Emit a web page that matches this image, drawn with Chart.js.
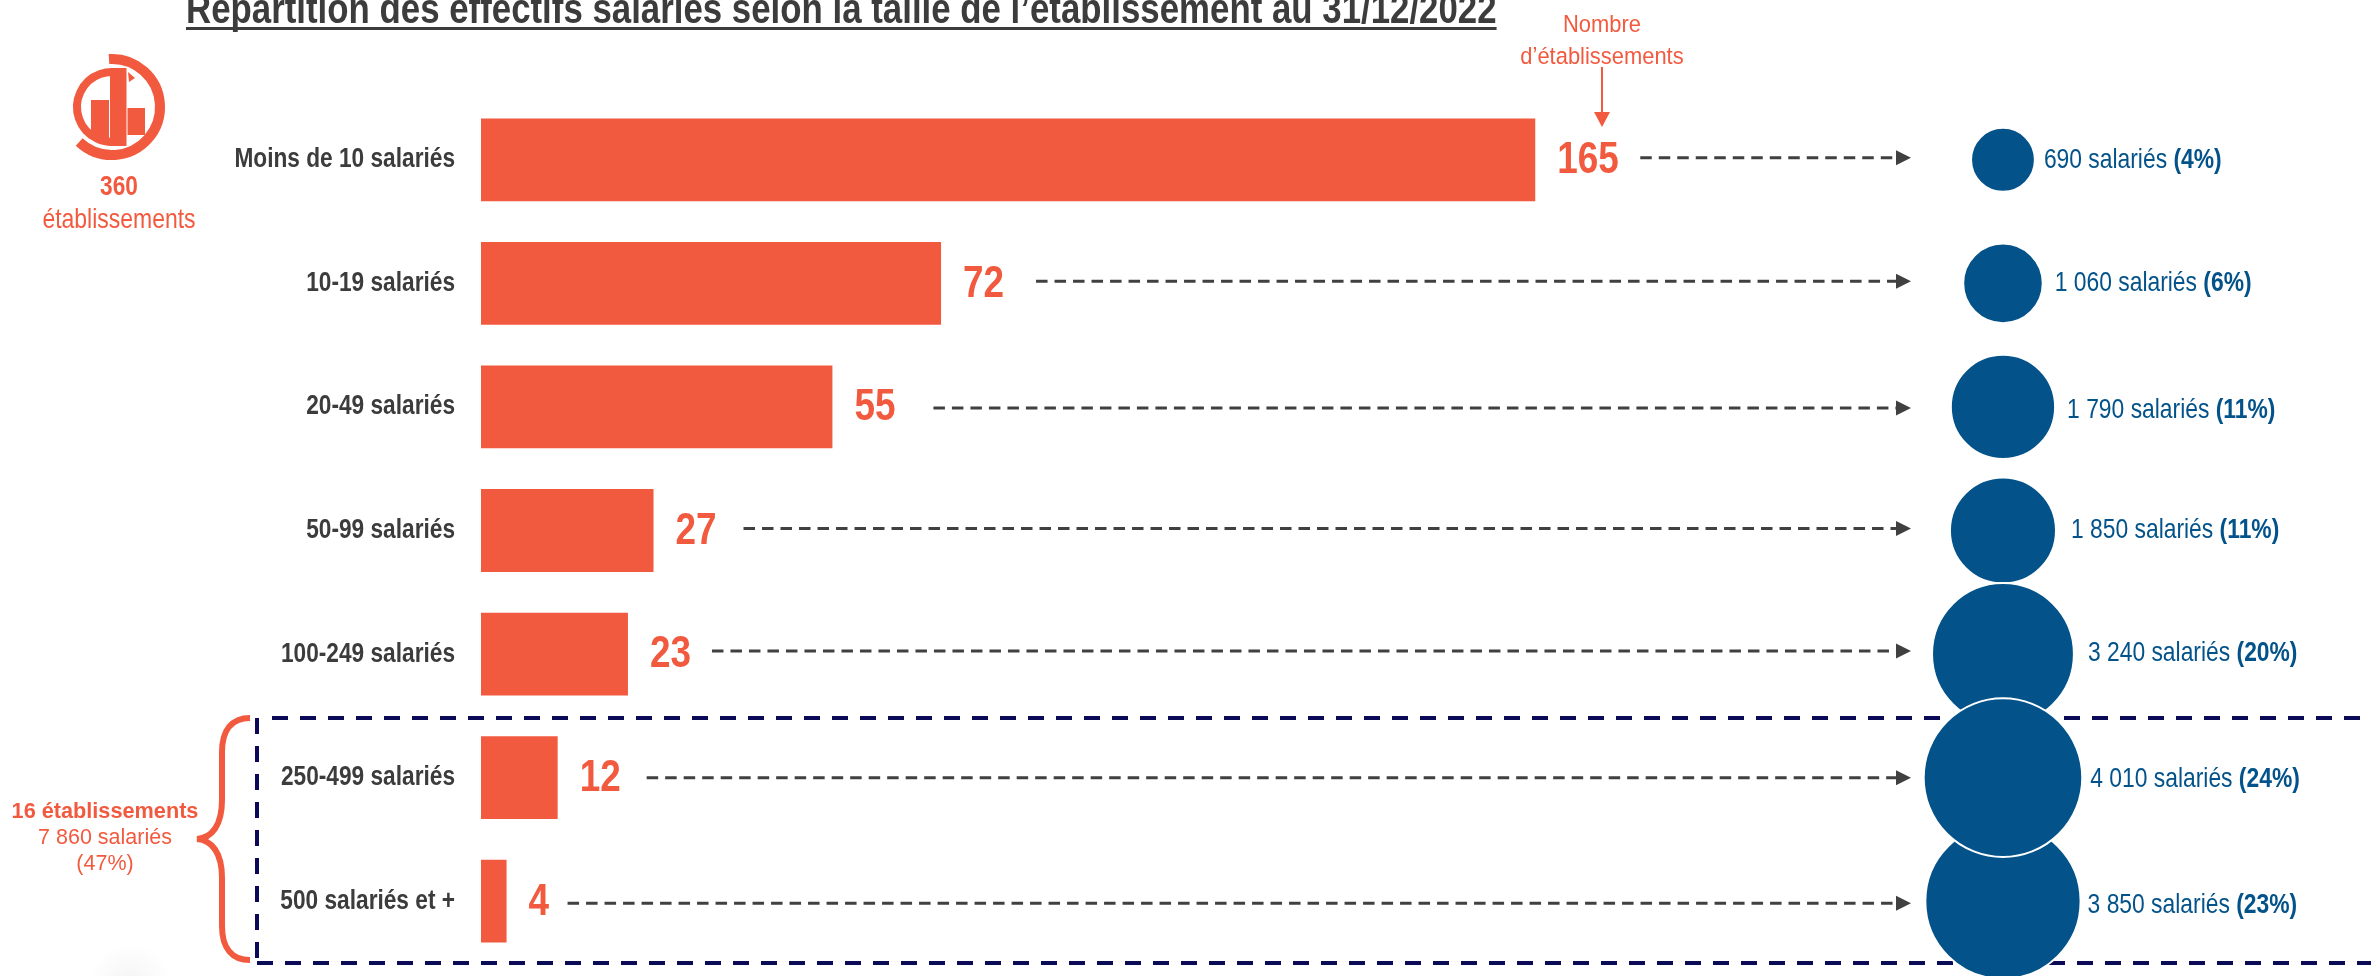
<!DOCTYPE html>
<html lang="fr">
<head>
<meta charset="utf-8">
<title>Répartition des effectifs salariés</title>
<style>html,body{margin:0;padding:0;background:#fff;overflow:hidden}canvas{display:block}</style>
<script src="https://cdn.jsdelivr.net/npm/chart.js@4"></script>
</head>
<body>
<canvas id="c" width="2371" height="976"></canvas>
<script>
// ---- data ----
const categories = ['Moins de 10 salariés','10-19 salariés','20-49 salariés','50-99 salariés','100-249 salariés','250-499 salariés','500 salariés et +'];
const establishments = [165,72,55,27,23,12,4];
const employees = [690,1060,1790,1850,3240,4010,3850];
const employeeText = ['690 salariés','1 060 salariés','1 790 salariés','1 850 salariés','3 240 salariés','4 010 salariés','3 850 salariés'];
const employeeShare = ['(4%)','(6%)','(11%)','(11%)','(20%)','(24%)','(23%)'];
const titleText = "Répartition des effectifs salariés selon la taille de l’établissement au 31/12/2022";

// ---- layout & style ----
const ORANGE='#F25A3F', BLUE='#03538A', NAVY='#0A0A56', DARK='#404040';
const SANS='"Liberation Sans",Arial,sans-serif';
const bubbleColumn = 238.2;      // horizontal position of the bubble column on the x scale
const plotBottom = 963;
const dashStartGap = [105,95,101,90,84,89,61];
const rowNudge     = [-2,-2,1,-2,-3,0,2];
const textGap      = [10,13,13,16,15,9,8];
const radiusOf = v => 0.98*Math.pow(v,0.528)+1;

const bubbles = categories.map((c,i)=>({x:bubbleColumn,y:c,r:radiusOf(employees[i])}))
  .map((b,i)=>({b,v:employees[i]})).sort((p,q)=>p.v-q.v).map(p=>p.b);

// draw text horizontally condensed by factor k
function txt(ctx,s,x,y,font,color,align,k){
  ctx.save();
  ctx.translate(x,y); ctx.scale(k||1,1);
  ctx.font=font; ctx.fillStyle=color; ctx.textAlign=align||'left'; ctx.textBaseline='middle';
  ctx.fillText(s,0,0);
  ctx.restore();
}

const decor = {
  id:'decor',
  afterLayout(chart){
    const y=chart.scales.y, a=chart.chartArea;
    a.bottom=plotBottom; a.height=a.bottom-a.top;
    y.bottom=plotBottom; y.height=y.bottom-y.top; y.configure();
    if(y.__condensed) return;
    y.__condensed=true;
    const orig=y.drawLabels;
    y.drawLabels=function(area){
      const c=this.ctx, ax=455;
      c.save(); c.translate(ax,0); c.scale(0.84,1); c.translate(-ax,0);
      orig.call(this,area);
      c.restore();
    };
  },
  beforeDatasetsDraw(chart){
    const ctx=chart.ctx;
    ctx.save();
    // faint smudge at the lower left of the source picture
    const g=ctx.createRadialGradient(130,985,0,130,985,42);
    g.addColorStop(0,'rgba(0,0,0,0.045)'); g.addColorStop(1,'rgba(0,0,0,0)');
    ctx.fillStyle=g; ctx.fillRect(88,940,84,36);
    ctx.strokeStyle=NAVY; ctx.lineWidth=4; ctx.setLineDash([16,12]);
    ctx.beginPath(); ctx.moveTo(257,718); ctx.lineTo(257,963); ctx.stroke();
    ctx.beginPath(); ctx.moveTo(272,718); ctx.lineTo(2371,718); ctx.stroke();
    ctx.beginPath(); ctx.moveTo(257,963); ctx.lineTo(2371,963); ctx.stroke();
    ctx.restore();
  },
  afterDatasetsDraw(chart){
    const ctx=chart.ctx, xs=chart.scales.x, ys=chart.scales.y;
    ctx.save();
    // title
    ctx.save();
    ctx.translate(186,23); ctx.scale(0.81,1);
    ctx.font='bold 43px '+SANS; ctx.fillStyle='#3C3C3C'; ctx.textAlign='left'; ctx.textBaseline='alphabetic';
    ctx.fillText(titleText,0,0);
    const tw=ctx.measureText(titleText).width*0.81;
    ctx.restore();
    ctx.fillStyle='#3C3C3C';
    ctx.fillRect(186,27,tw,3);

    categories.forEach((c,i)=>{
      const ey=ys.getPixelForValue(i);
      const end=xs.getPixelForValue(establishments[i]);
      const y=ey+rowNudge[i];
      txt(ctx,String(establishments[i]),end+22,ey+1,'bold 45px '+SANS,ORANGE,'left',0.82);
      const tip=1911;
      ctx.strokeStyle=DARK; ctx.lineWidth=3; ctx.setLineDash([11.5,7]);
      ctx.beginPath(); ctx.moveTo(end+dashStartGap[i],y); ctx.lineTo(tip-14,y); ctx.stroke();
      ctx.setLineDash([]);
      ctx.fillStyle=DARK;
      ctx.beginPath(); ctx.moveTo(tip,y); ctx.lineTo(tip-15,y-7.5); ctx.lineTo(tip-15,y+7.5); ctx.closePath(); ctx.fill();
      const cx=xs.getPixelForValue(bubbleColumn), r=radiusOf(employees[i])-1;
      const lx=cx+r+textGap[i], K=0.816;
      txt(ctx,employeeText[i]+' ',lx,y+2,'28px '+SANS,BLUE,'left',K);
      ctx.font='28px '+SANS;
      const w=ctx.measureText(employeeText[i]+' ').width*K;
      txt(ctx,employeeShare[i],lx+w,y+2,'bold 28px '+SANS,BLUE,'left',K);
    });

    txt(ctx,'Nombre',1602,25,'24.5px '+SANS,ORANGE,'center',0.895);
    txt(ctx,'d’établissements',1602,57,'24.5px '+SANS,ORANGE,'center',0.895);
    ctx.strokeStyle=ORANGE; ctx.lineWidth=2;
    ctx.beginPath(); ctx.moveTo(1602,67); ctx.lineTo(1602,113); ctx.stroke();
    ctx.fillStyle=ORANGE;
    ctx.beginPath(); ctx.moveTo(1602,127); ctx.lineTo(1594,112); ctx.lineTo(1610,112); ctx.closePath(); ctx.fill();

    txt(ctx,'360',119,187,'bold 28px '+SANS,ORANGE,'center',0.81);
    txt(ctx,'établissements',119,220,'28px '+SANS,ORANGE,'center',0.82);

    txt(ctx,'16 établissements',105,812,'bold 21.7px '+SANS,ORANGE,'center');
    txt(ctx,'7 860 salariés',105,838,'21.5px '+SANS,ORANGE,'center');
    txt(ctx,'(47%)',105,864,'21.5px '+SANS,ORANGE,'center');

    // brace
    ctx.strokeStyle=ORANGE; ctx.lineWidth=6; ctx.lineCap='butt';
    ctx.beginPath();
    ctx.moveTo(250,718);
    ctx.bezierCurveTo(232,718,222,730,222,752);
    ctx.lineTo(222,800);
    ctx.bezierCurveTo(222,825,212,838,197,839);
    ctx.bezierCurveTo(212,840,222,853,222,878);
    ctx.lineTo(222,926);
    ctx.bezierCurveTo(222,948,232,960,250,960);
    ctx.stroke();

    // icon
    ctx.strokeStyle=ORANGE; ctx.fillStyle=ORANGE;
    ctx.lineWidth=10;
    ctx.beginPath(); ctx.arc(112,107,48,-Math.PI*0.52,Math.PI*0.74); ctx.stroke();
    ctx.lineWidth=8;
    ctx.beginPath(); ctx.arc(112,107,35,Math.PI*0.39,Math.PI*1.5); ctx.stroke();
    ctx.fillRect(91,100,18,38);
    ctx.fillRect(110,68,16.5,78);
    ctx.fillRect(127.5,108,17.5,27);
    ctx.beginPath(); ctx.moveTo(128,72); ctx.lineTo(135,78); ctx.lineTo(129,82); ctx.closePath(); ctx.fill();
    ctx.restore();
  }
};

new Chart(document.getElementById('c').getContext('2d'),{
  type:'bar',
  data:{
    labels:categories,
    datasets:[
      {type:'bar',label:'Nombre d’établissements',data:establishments,backgroundColor:ORANGE,borderWidth:0,categoryPercentage:1,barPercentage:0.67,order:2},
      {type:'bubble',label:'Salariés',data:bubbles,backgroundColor:BLUE,borderColor:'#fff',borderWidth:2,clip:false,order:1}
    ]
  },
  options:{
    indexAxis:'y',
    responsive:false,
    animation:false,
    devicePixelRatio:1,
    layout:{autoPadding:false,padding:{top:98,bottom:13,left:0,right:0}},
    plugins:{legend:{display:false},title:{display:false},tooltip:{enabled:false}},
    scales:{
      x:{type:'linear',display:false,min:0,max:295.8,grid:{display:false},afterFit(s){s.height=0;}},
      y:{type:'category',offset:true,grid:{display:false},border:{display:false},
         afterFit(s){s.width=481;},
         ticks:{padding:18,color:'#3C3C3C',font:{family:SANS,size:27,weight:'bold'}}}
    }
  },
  plugins:[decor]
});
</script>
</body>
</html>
